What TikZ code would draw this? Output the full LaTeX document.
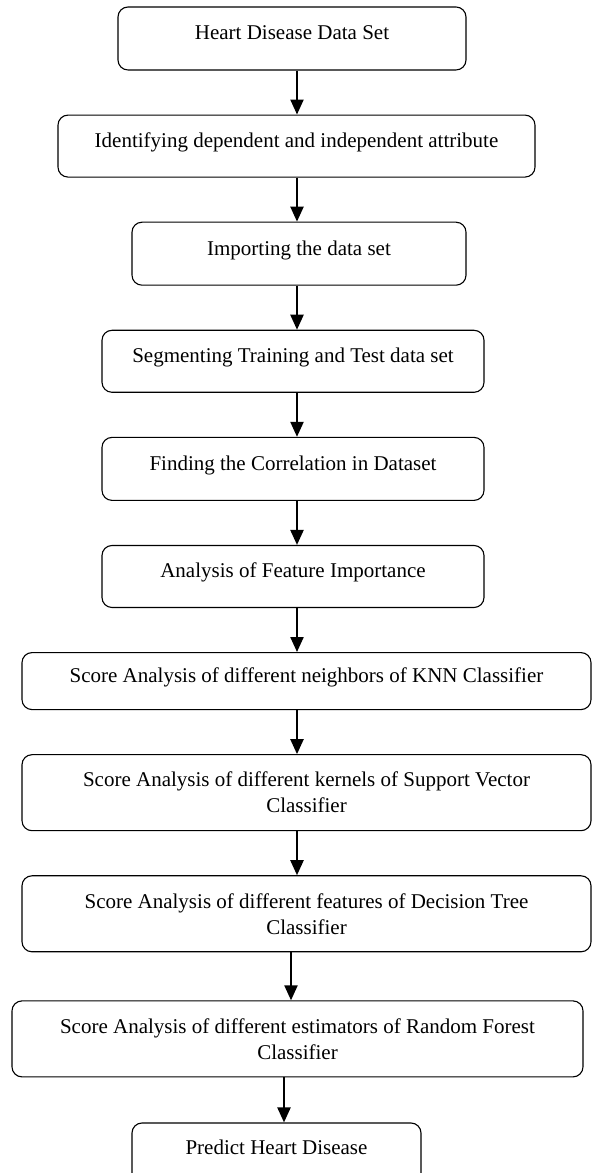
\documentclass[tikz,border=0pt]{standalone}
\usepackage{fontspec}
\setmainfont{Liberation Serif}
\usepackage{tikz}
\usetikzlibrary{arrows.meta,positioning}

\begin{document}
\begin{tikzpicture}[
    x=1pt, y=1pt,
    node distance=44pt,
    block/.style={rectangle,draw,rounded corners=10pt,line width=1.1pt,align=center,font=\fontsize{21}{26}\selectfont},
    single/.style={block,text height=14pt,text depth=11pt},
    arrow/.style={-{Triangle[length=15pt,width=13pt]},line width=2.2pt}
]
\useasboundingbox (0,0) rectangle (592,1173);
\coordinate (spine) at (297,0);
\coordinate (spineb) at (291,0);
\coordinate (spinec) at (284,0);

\node[single, minimum width=348pt, minimum height=63pt] (data) at (292,1134.5) {Heart Disease Data Set};
\node[single, minimum width=477pt, minimum height=62pt, below=of data, xshift=4.5pt] (attrib) {Identifying dependent and independent attribute};
\node[single, minimum width=334pt, minimum height=63pt, below=of attrib, xshift=2.5pt] (import) {Importing the data set};
\node[single, minimum width=382pt, minimum height=62pt, below=of import, xshift=-6pt] (split) {Segmenting Training and Test data set};
\node[single, minimum width=382pt, minimum height=63pt, below=of split] (corr) {Finding the Correlation in Dataset};
\node[single, minimum width=382pt, minimum height=62pt, below=of corr] (featimp) {Analysis of Feature Importance};
\node[single, minimum width=569pt, minimum height=57pt, below=of featimp, xshift=13.5pt] (knn) {Score Analysis of different neighbors of KNN Classifier};
\node[block, minimum width=569pt, minimum height=76pt, below=of knn] (svc) {Score Analysis of different kernels of Support Vector\\Classifier};
\node[block, minimum width=569pt, minimum height=76pt, below=of svc] (dtree) {Score Analysis of different features of Decision Tree\\Classifier};
\node[block, minimum width=571pt, minimum height=76pt, below=48pt of dtree, xshift=-9pt] (rforest) {Score Analysis of different estimators of Random Forest\\Classifier};
\node[single, minimum width=289pt, minimum height=60pt, below=45pt of rforest, xshift=-21pt] (predict) {Predict Heart Disease};

\draw[arrow] (data.south -| spine) -- (attrib.north -| spine);
\draw[arrow] (attrib.south -| spine) -- (import.north -| spine);
\draw[arrow] (import.south -| spine) -- (split.north -| spine);
\draw[arrow] (split.south -| spine) -- (corr.north -| spine);
\draw[arrow] (corr.south -| spine) -- (featimp.north -| spine);
\draw[arrow] (featimp.south -| spine) -- (knn.north -| spine);
\draw[arrow] (knn.south -| spine) -- (svc.north -| spine);
\draw[arrow] (svc.south -| spine) -- (dtree.north -| spine);
\draw[arrow] (dtree.south -| spineb) -- (rforest.north -| spineb);
\draw[arrow] (rforest.south -| spinec) -- (predict.north -| spinec);
\end{tikzpicture}
\end{document}
